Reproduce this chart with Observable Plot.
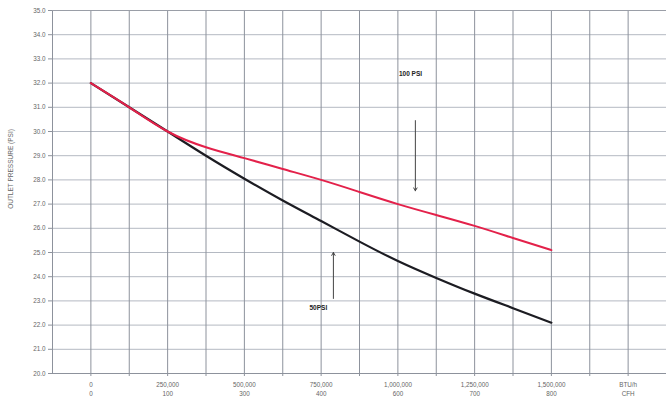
<!DOCTYPE html>
<html>
<head>
<meta charset="utf-8">
<script src="https://cdn.jsdelivr.net/npm/d3@7"></script>
<script src="https://cdn.jsdelivr.net/npm/@observablehq/plot@0.6"></script>
<style>
  html, body { margin: 0; padding: 0; background: #fff; }
  #chart { width: 666px; height: 400px; }
</style>
</head>
<body>
<div id="chart"></div>
<script>
// Data
const flowBtu = [0, 125000, 250000, 375000, 500000, 625000, 750000, 875000, 1000000, 1125000, 1250000, 1375000, 1500000];
const psi100 = [32.0, 31.0, 30.0, 29.35, 28.9, 28.45, 28.0, 27.5, 27.0, 26.55, 26.1, 25.6, 25.1];
const psi50  = [32.0, 31.0, 30.0, 29.0, 28.05, 27.15, 26.3, 25.45, 24.65, 23.95, 23.3, 22.7, 22.1];

const xTicks = [0, 250000, 500000, 750000, 1000000, 1250000, 1500000, 1750000];
const btuLabels = ["0", "250,000", "500,000", "750,000", "1,000,000", "1,250,000", "1,500,000", "BTU/h"];
const cfhLabels = ["0", "100", "300", "400", "600", "700", "800", "CFH"];
const xGrid = [0, 125000, 250000, 375000, 500000, 625000, 750000, 875000, 1000000, 1125000, 1250000, 1375000, 1500000, 1625000, 1750000];
const yTicks = [20, 21, 22, 23, 24, 25, 26, 27, 28, 29, 30, 31, 32, 33, 34, 35];
const yTitle = "OUTLET PRESSURE (PSI)";

const annotations = [
  {label: "100 PSI", x: 1041000, y: 32.4},
  {label: "50PSI", x: 741000, y: 22.73}
];
const arrows = [
  {x1: 1057000, y1: 30.45, x2: 1057000, y2: 27.55},
  {x1: 790000, y1: 23.1, x2: 790000, y2: 25.0}
];

const rows100 = flowBtu.map((x, i) => ({x, y: psi100[i]}));
const rows50 = flowBtu.map((x, i) => ({x, y: psi50[i]}));
const xLabelRows = xTicks.map((x, i) => ({x, label: btuLabels[i] + "\n" + cfhLabels[i]}));

const chart = Plot.plot({
  width: 666,
  height: 400,
  marginLeft: 52,
  marginRight: 0,
  marginTop: 10,
  marginBottom: 27,
  style: {fontFamily: "Liberation Sans, Arial, sans-serif", background: "#fff"},
  x: {type: "linear", domain: [-125000, 1875000]},
  y: {type: "linear", domain: [20, 35]},
  marks: [
    Plot.ruleY(yTicks, {y: d => d, stroke: "#b4b9c2", strokeWidth: 1}),
    Plot.ruleX(xGrid, {x: d => d, stroke: "#8d929c", strokeWidth: 1}),
    Plot.axisX({ticks: xGrid, tickSize: 3, tickFormat: () => "", stroke: "#8d929c", label: null}),
    Plot.ruleX([-125000], {x: d => d, stroke: "#8d929c", strokeWidth: 1}),
    Plot.ruleY([20], {y: d => d, stroke: "#8d929c", strokeWidth: 1}),
    Plot.ruleY([35], {y: d => d, stroke: "#9a9ea7", strokeWidth: 1}),
    Plot.axisY({ticks: yTicks, tickFormat: d => d.toFixed(1), tickSize: 4, tickPadding: 3, fontSize: 6.3, color: "#666", stroke: "#8d929c", label: null}),
    Plot.text([yTitle], {text: d => d, frameAnchor: "left", y: [28.45], dx: -42, rotate: -90, textAnchor: "middle", fontSize: 6.5, fill: "#666"}),
    Plot.text(xLabelRows, {x: "x", text: "label", frameAnchor: "bottom", dy: 7, fontSize: 6.3, fill: "#666", lineHeight: 1.4, lineAnchor: "top"}),
    Plot.line(rows50, {x: "x", y: "y", stroke: "#1c1c22", strokeWidth: 2.2, curve: "natural"}),
    Plot.line(rows100, {x: "x", y: "y", stroke: "#e3214a", strokeWidth: 2, curve: "natural"}),
    Plot.arrow(arrows, {x1: "x1", y1: "y1", x2: "x2", y2: "y2", stroke: "#444", strokeWidth: 1, headLength: 5}),
    Plot.text(annotations, {x: "x", y: "y", text: "label", fontSize: 6.5, fontWeight: "bold", fill: "#222"})
  ]
});
document.getElementById("chart").append(chart);
</script>
</body>
</html>
